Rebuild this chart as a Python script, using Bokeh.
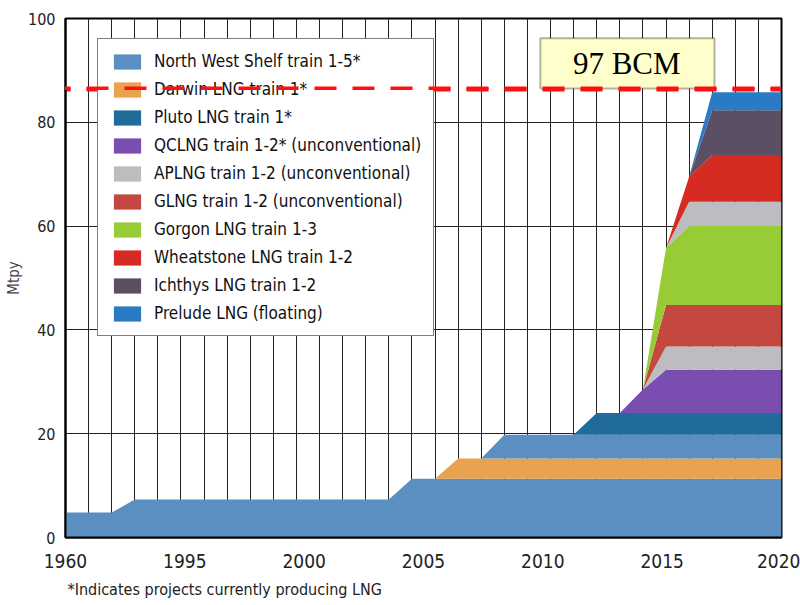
from bokeh.plotting import figure
from bokeh.models import (Range1d, FixedTicker, Legend, LegendItem, BoxAnnotation,
                          Label, ColumnDataSource, Title)
from bokeh.embed import file_html
from bokeh.resources import INLINE

# ---- data (x = position index on the chart's axis, 0..31) ----
x_pos = list(range(32))
tick_labels = ["1960", "1995", "2000", "2005", "2010", "2015", "2020"]

nws       = [4.8, 4.8, 4.8] + [7.3] * 12 + [11.3] * 17
darwin    = [0.0] * 17 + [3.9] * 15
nws5      = [0.0] * 19 + [4.6] * 13
pluto     = [0.0] * 23 + [4.2] * 9
qclng     = [0.0] * 25 + [4.5] + [8.3] * 6
aplng     = [0.0] * 26 + [4.5] * 6
glng      = [0.0] * 26 + [8.0] * 6
gorgon    = [0.0] * 26 + [11.0] + [15.2] * 5
aplng2    = [0.0] * 27 + [4.7] * 5
wheat     = [0.0] * 27 + [4.8] + [9.0] * 4
ichthys   = [0.0] * 28 + [8.6] * 4
prelude   = [0.0] * 28 + [3.5] * 4

series_names = ["nws", "darwin", "nws5", "pluto", "qclng", "aplng", "glng",
                "gorgon", "aplng2", "wheat", "ichthys", "prelude"]
series_vals = [nws, darwin, nws5, pluto, qclng, aplng, glng, gorgon, aplng2,
               wheat, ichthys, prelude]
colors = ["#5b8fc2", "#e9a24e", "#5b8fc2", "#1f6b9b", "#7a4eb0", "#bdbdc1",
          "#c4483f", "#98cc36", "#bdbdc1", "#d62b23", "#5a4f63", "#2b7bc4"]

legend_labels = ["North West Shelf train 1-5*", "Darwin LNG train 1*",
                 "Pluto LNG train 1*", "QCLNG train 1-2* (unconventional)",
                 "APLNG train 1-2 (unconventional)", "GLNG train 1-2 (unconventional)",
                 "Gorgon LNG train 1-3", "Wheatstone LNG train 1-2",
                 "Ichthys LNG train 1-2", "Prelude LNG (floating)"]
legend_series = ["nws", "darwin", "pluto", "qclng", "aplng", "glng",
                 "gorgon", "wheat", "ichthys", "prelude"]

limit_value = 86.3
limit_x = [-2.38, 31]
limit_text = "97 BCM"
footnote = "*Indicates projects currently producing LNG"

data = {"x": x_pos}
for n, v in zip(series_names, series_vals):
    data[n] = v
source = ColumnDataSource(data)

NARROW = "DejaVu Sans Condensed, Roboto"

p = figure(width=800, height=605, output_backend="svg", toolbar_location=None,
           x_range=Range1d(0, 31), y_range=Range1d(0, 100),
           min_border_left=65, min_border_right=19, min_border_top=18,
           min_border_bottom=67)
p.background_fill_color = "white"
p.border_fill_color = "white"
p.outline_line_color = "black"
p.outline_line_width = 2

renderers = p.varea_stack(stackers=series_names, x="x", color=colors, source=source)
rmap = dict(zip(series_names, renderers))

# axes
p.xaxis.ticker = FixedTicker(ticks=[31 * k / 6 for k in range(7)])
p.xaxis.major_label_overrides = {31 * k / 6: t for k, t in enumerate(tick_labels)}
p.yaxis.ticker = FixedTicker(ticks=[0, 20, 40, 60, 80, 100])
for ax in (p.xaxis[0], p.yaxis[0]):
    ax.axis_line_color = "black"
    ax.axis_line_width = 2
    ax.major_tick_line_color = None
    ax.minor_tick_line_color = None
    ax.major_label_text_font = NARROW
    ax.major_label_text_color = "#222222"
p.xaxis.major_label_text_font_size = "19px"
p.xaxis.major_label_standoff = 10
p.yaxis.major_label_text_font_size = "16px"
p.yaxis.major_label_standoff = 4
p.yaxis.axis_label = "Mtpy"
p.yaxis.axis_label_text_font = NARROW
p.yaxis.axis_label_text_font_size = "15px"
p.yaxis.axis_label_text_font_style = "normal"
p.yaxis.axis_label_standoff = 2

# grids
p.xgrid.ticker = FixedTicker(ticks=list(range(1, 31)))
p.xgrid.grid_line_color = "#222222"
p.xgrid.grid_line_width = 1
p.ygrid.grid_line_color = "#222222"
p.ygrid.grid_line_width = 1

# legend
items = [LegendItem(label=lab, renderers=[rmap[s]]) for lab, s in zip(legend_labels, legend_series)]
legend = Legend(items=items, location=(32, 201))
legend.label_text_font = NARROW
legend.label_text_font_size = "17px"
legend.label_text_color = "#111111"
legend.glyph_width = 34
legend.glyph_height = 19
legend.label_height = 19
legend.label_standoff = 10
legend.spacing = 8
legend.padding = 12
legend.margin = 0
legend.border_line_color = "black"
legend.border_line_width = 1
legend.background_fill_color = "white"
legend.background_fill_alpha = 1
p.add_layout(legend, "center")

# limit line (extends across the axis area, as in the reference)
limit_r = p.line(x=limit_x, y=[limit_value, limit_value], line_color="#ff1010",
                 line_width=4, line_dash="22 16")
dash_leg = Legend(items=[LegendItem(label="", renderers=[limit_r])],
                  location=(-55, int(round(limit_value * 5.2 - 2))))
dash_leg.glyph_width = 770
dash_leg.glyph_height = 4
dash_leg.label_width = 0
dash_leg.label_height = 4
dash_leg.label_standoff = 0
dash_leg.label_text_font_size = "1px"
dash_leg.padding = 0
dash_leg.margin = 0
dash_leg.spacing = 0
dash_leg.border_line_color = None
dash_leg.background_fill_alpha = 0
p.add_layout(dash_leg, "center")

p.add_layout(BoxAnnotation(left=20.56, right=28.1, bottom=86.5, top=96.2,
                           fill_color="#ffffcc", fill_alpha=1, line_color="black",
                           line_width=2))
p.add_layout(Label(x=24.3, y=91.3, text=limit_text, text_align="center",
                   text_baseline="middle", text_font="Liberation Serif",
                   text_font_size="31px", text_color="black"))

note = Title(text=footnote, align="left", text_font=NARROW, text_font_size="16px",
             text_font_style="normal", text_color="#222222", standoff=14, offset=2)
p.add_layout(note, "below")

open("out.html", "w").write(file_html(p, INLINE))
